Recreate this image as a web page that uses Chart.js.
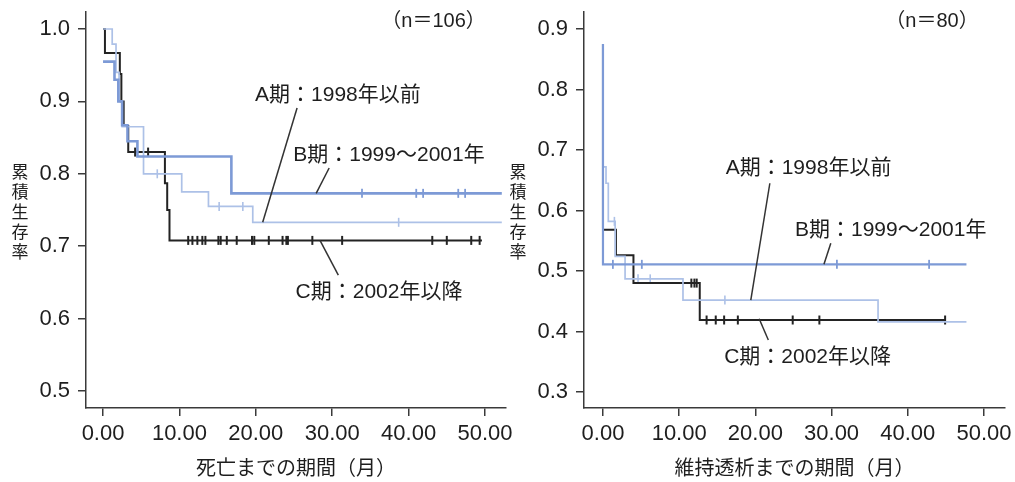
<!DOCTYPE html>
<html><head><meta charset="utf-8">
<script src="https://cdn.jsdelivr.net/npm/chart.js@4.4.0/dist/chart.umd.min.js"></script>
<style>
html,body{margin:0;padding:0;background:#fff;}
#wrap{position:relative;width:1015px;height:482px;background:#fff;}
canvas{position:absolute;left:0;top:0;}
</style></head><body>
<div id="wrap"><canvas id="c1" width="1015" height="482"></canvas><canvas id="c2" width="1015" height="482"></canvas></div>
<script>
// ---------- Left panel: 死亡までの期間 (n=106) ----------
const L_A_TIME = [0, 1.2, 1.7, 2.1, 2.5, 5.3, 10.3, 13.8, 19.6, 52.2];
const L_A_SURV = [1.0, 0.979, 0.94, 0.90, 0.865, 0.80, 0.775, 0.755, 0.733, 0.733];
const L_A_CENS = [7.1, 15.2, 18.3, 38.7];

const L_B_TIME = [0, 1.5, 2.0, 2.5, 3.2, 4.5, 16.8, 52.2];
const L_B_SURV = [0.955, 0.93, 0.90, 0.867, 0.845, 0.824, 0.773, 0.773];
const L_B_CENS = [33.9, 41.0, 41.9, 46.5, 47.4];

const L_C_TIME = [0, 0.25, 2.2, 2.4, 2.7, 3.3, 8.1, 8.4, 8.7, 49.6];
const L_C_SURV = [1.0, 0.967, 0.938, 0.90, 0.866, 0.83, 0.787, 0.75, 0.708, 0.708];
const L_C_CENS = [4.2, 5.9, 11.15, 11.7, 12.35, 13.0, 13.4, 15.1, 15.4, 16.2, 17.5, 19.5, 19.8, 21.7, 23.5, 24.0, 24.2, 27.4, 31.3, 43.1, 45.0, 48.2, 49.3];

const L_X_TICKS = [0, 10, 20, 30, 40, 50];
const L_Y_TICKS = [0.5, 0.6, 0.7, 0.8, 0.9, 1.0];

// ---------- Right panel: 維持透析までの期間 (n=80) ----------
const R_A_TIME = [0, 0, 0.4, 0.7, 1.6, 2.9, 10.5, 36.1, 47.7];
const R_A_SURV = [0.875, 0.672, 0.645, 0.582, 0.524, 0.487, 0.452, 0.416, 0.416];
const R_A_CENS = [1.5, 4.6, 6.2, 16.0];

const R_B_TIME = [0, 0, 47.7];
const R_B_SURV = [0.875, 0.511, 0.511];
const R_B_CENS = [1.3, 5.1, 30.7, 42.8];

const R_C_TIME = [0, 0, 1.7, 4.0, 12.7, 44.9];
const R_C_SURV = [0.875, 0.568, 0.526, 0.48, 0.419, 0.419];
const R_C_CENS = [11.6, 12.0, 12.3, 13.6, 14.8, 15.9, 17.7, 24.9, 28.4, 44.9];

const R_X_TICKS = [0, 10, 20, 30, 40, 50];
const R_Y_TICKS = [0.3, 0.4, 0.5, 0.6, 0.7, 0.8, 0.9];

const LABEL_A = 'A期：1998年以前';
const LABEL_B = 'B期：1999〜2001年';
const LABEL_C = 'C期：2002年以降';
const Y_TITLE = '累積生存率';
const L_X_TITLE = '死亡までの期間（月）';
const R_X_TITLE = '維持透析までの期間（月）';
const L_N = '（n＝106）';
const R_N = '（n＝80）';

const COL_A = '#adc1e7';
const COL_B = '#7d9ad6';
const COL_C = '#232323';
const AXIS = '#3a3a3a';
const TICK_FONT = {family: '"Liberation Sans", Arial, sans-serif', size: 22};
const JP_FONT = '"Liberation Sans", "Noto Sans CJK JP", sans-serif';

function pts(T, S) { return T.map((t, i) => ({x: t, y: S[i]})); }
function survAt(T, S, t) { let v = S[0]; for (let i = 0; i < T.length; i++) { if (T[i] <= t) v = S[i]; } return v; }
function cens(T, S, C) { return C.map(t => ({x: t, y: survAt(T, S, t)})); }

const annotPlugin = {
  id: 'annot',
  afterDraw(chart, args, o) {
    const {ctx, chartArea, scales: {x, y}} = chart;
    ctx.save();
    ctx.strokeStyle = '#333'; ctx.lineWidth = 1.5;
    o.leaders.forEach(l => {
      ctx.beginPath();
      ctx.moveTo(x.getPixelForValue(l[0]), y.getPixelForValue(l[1]));
      ctx.lineTo(x.getPixelForValue(l[2]), y.getPixelForValue(l[3]));
      ctx.stroke();
    });
    ctx.fillStyle = '#1e1e1e';
    ctx.textBaseline = 'middle';
    ctx.font = '21px ' + JP_FONT;
    ctx.textAlign = 'left';
    o.labels.forEach(l => ctx.fillText(l[0], x.getPixelForValue(l[1]), y.getPixelForValue(l[2])));
    ctx.font = '20px ' + JP_FONT;
    ctx.textAlign = 'right';
    ctx.fillText(o.n[0], x.getPixelForValue(o.n[1]), y.getPixelForValue(o.n[2]));
    // x title
    ctx.font = '20px "Noto Sans CJK JP", sans-serif';
    ctx.textAlign = 'center';
    ctx.fillText(o.xTitle, (chartArea.left + chartArea.right) / 2, 467);
    // y title stacked
    ctx.font = '17px "Noto Sans CJK JP", sans-serif';
    const chars = Array.from(Y_TITLE);
    chars.forEach((c, i) => ctx.fillText(c, chartArea.left - o.yTitleOff, 172 + i * 20));
    ctx.restore();
  }
};

function makeChart(id, d) {
  const datasets = [
    {data: pts(d.bT, d.bS), borderColor: COL_B, borderWidth: d.bW, stepped: true, pointRadius: 0, fill: false},
    {data: pts(d.aT, d.aS), borderColor: COL_A, borderWidth: 1.7, stepped: true, pointRadius: 0, fill: false},
    {data: pts(d.cT, d.cS), borderColor: COL_C, borderWidth: 2, stepped: true, pointRadius: 0, fill: false},
    {data: cens(d.bT, d.bS, d.bC), showLine: false, pointStyle: 'line', rotation: 90, pointRadius: 4.5, borderColor: COL_B, pointBorderWidth: 1.8},
    {data: cens(d.aT, d.aS, d.aC), showLine: false, pointStyle: 'line', rotation: 90, pointRadius: 4.5, borderColor: COL_A, pointBorderWidth: 1.6},
    {data: cens(d.cT, d.cS, d.cC), showLine: false, pointStyle: 'line', rotation: 90, pointRadius: 4.5, borderColor: COL_C, pointBorderWidth: 2}
  ];
  return new Chart(document.getElementById(id), {
    type: 'line',
    data: {datasets},
    plugins: [annotPlugin],
    options: {
      responsive: false, animation: false, events: [],
      layout: {padding: d.pad},
      plugins: {legend: {display: false}, tooltip: {enabled: false}, annot: d.annot},
      scales: {
        x: {
          type: 'linear', min: d.xMin, max: d.xMax,
          afterBuildTicks: s => { s.ticks = d.xTicks.map(v => ({value: v})); },
          afterFit: s => { s.height = 74; s.paddingLeft = 0; s.paddingRight = 0; },
          ticks: {font: TICK_FONT, color: '#1e1e1e', padding: 5, maxRotation: 0, autoSkip: false, callback: v => v.toFixed(2)},
          grid: {drawOnChartArea: false, drawTicks: true, tickLength: 8, color: AXIS, lineWidth: 1.5},
          border: {display: true, color: AXIS, width: 1.5}
        },
        y: {
          type: 'linear', min: d.yMin, max: d.yMax,
          afterBuildTicks: s => { s.ticks = d.yTicks.map(v => ({value: v})); },
          afterFit: s => { s.width = 86; s.paddingTop = 0; s.paddingBottom = 0; },
          ticks: {font: TICK_FONT, color: '#1e1e1e', padding: 8, autoSkip: false, callback: v => v.toFixed(1)},
          grid: {drawOnChartArea: false, drawTicks: true, tickLength: 8, color: AXIS, lineWidth: 1.5},
          border: {display: true, color: AXIS, width: 1.5}
        }
      }
    }
  });
}

makeChart('c1', {
  aT: L_A_TIME, aS: L_A_SURV, aC: L_A_CENS,
  bT: L_B_TIME, bS: L_B_SURV, bC: L_B_CENS, bW: 2.6,
  cT: L_C_TIME, cS: L_C_SURV, cC: L_C_CENS,
  xTicks: L_X_TICKS, yTicks: L_Y_TICKS,
  xMin: -2.23, xMax: 52.75, yMin: 0.4765, yMax: 1.0235,
  pad: {left: 0, right: 509, top: 12, bottom: 0},
  annot: {
    leaders: [[25.4, 0.891, 20.9, 0.733], [29.6, 0.808, 27.9, 0.773], [28.4, 0.708, 30.8, 0.660]],
    labels: [[LABEL_A, 19.9, 0.909], [LABEL_B, 24.9, 0.826], [LABEL_C, 25.2, 0.637]],
    n: [L_N, 50.1, 1.011],
    xTitle: L_X_TITLE, yTitleOff: 66
  }
});

makeChart('c2', {
  aT: R_A_TIME, aS: R_A_SURV, aC: R_A_CENS,
  bT: R_B_TIME, bS: R_B_SURV, bC: R_B_CENS, bW: 2.2,
  cT: R_C_TIME, cS: R_C_SURV, cC: R_C_CENS,
  xTicks: R_X_TICKS, yTicks: R_Y_TICKS,
  xMin: -2.49, xMax: 52.76, yMin: 0.2736, yMax: 0.928,
  pad: {left: 498, right: 10, top: 12, bottom: 0},
  annot: {
    leaders: [[21.9, 0.645, 19.4, 0.452], [29.9, 0.546, 29.0, 0.511], [20.5, 0.421, 21.7, 0.386]],
    labels: [[LABEL_A, 16.1, 0.670], [LABEL_B, 25.2, 0.568], [LABEL_C, 15.9, 0.358]],
    n: [R_N, 49.3, 0.913],
    xTitle: R_X_TITLE, yTitleOff: 66
  }
});
</script>
</body></html>
